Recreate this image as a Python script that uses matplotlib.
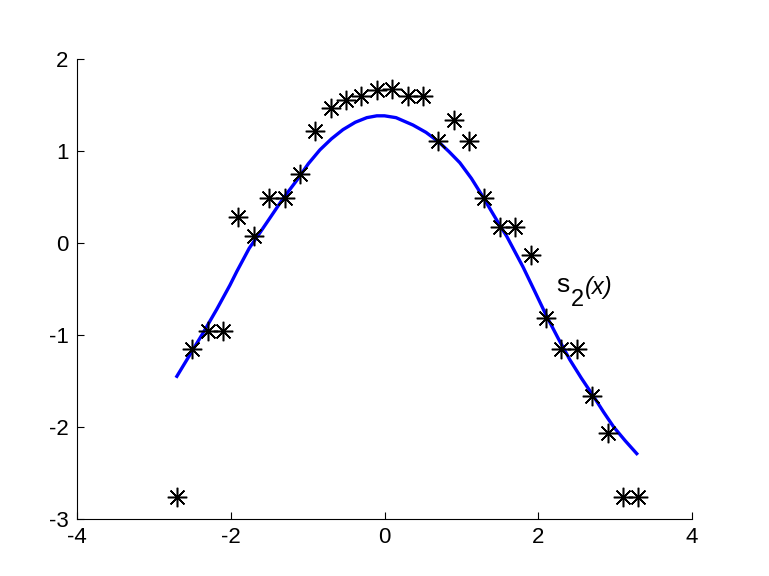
import matplotlib
matplotlib.use('Agg')
import matplotlib.pyplot as plt

plt.rcParams['font.family'] = ['Liberation Sans', 'DejaVu Sans']
plt.rcParams['axes.unicode_minus'] = False

# data points (asterisks)
x_pts = [-2.7, -2.5, -2.3, -2.1, -1.9, -1.7, -1.5, -1.3, -1.1, -0.9, -0.7,
         -0.5, -0.3, -0.1, 0.1, 0.3, 0.5, 0.7, 0.9, 1.1, 1.3, 1.5, 1.7,
         1.9, 2.1, 2.3, 2.5, 2.7, 2.9, 3.1, 3.3]
y_pts = [-2.76, -1.15, -0.96, -0.96, 0.28, 0.07, 0.49, 0.49, 0.75, 1.22, 1.46,
         1.55, 1.60, 1.66, 1.67, 1.59, 1.59, 1.11, 1.33, 1.11, 0.49, 0.17, 0.17,
         -0.13, -0.82, -1.15, -1.15, -1.66, -2.07, -2.76, -2.76]

# fitted curve s_2(x)
x_fit = [-2.70, -2.36, -2.18, -2.01, -1.92, -1.76, -1.62, -1.49, -1.32, -1.14,
         -0.99, -0.84, -0.69, -0.54, -0.38, -0.23, -0.10, 0.0, 0.15, 0.37,
         0.54, 0.70, 0.84, 0.98, 1.13, 1.28, 1.40, 1.50, 1.59, 1.80, 1.95,
         2.11, 2.26, 2.41, 2.56, 2.72, 2.85, 2.98, 3.13, 3.28]
y_fit = [-1.45, -0.98, -0.72, -0.46, -0.31, -0.06, 0.11, 0.27, 0.48, 0.68,
         0.86, 1.01, 1.13, 1.23, 1.31, 1.36, 1.38, 1.38, 1.36, 1.28,
         1.20, 1.10, 0.99, 0.87, 0.70, 0.50, 0.33, 0.19, 0.07, -0.26, -0.52,
         -0.80, -1.04, -1.27, -1.47, -1.67, -1.84, -2.00, -2.15, -2.29]

fig = plt.figure(figsize=(7.69, 5.76), dpi=100)
ax = fig.add_axes([0.100, 0.099, 0.800, 0.799])

ax.plot(x_fit, y_fit, color='#0000ff', lw=2.4)
ax.plot(x_pts, y_pts, ls='none', marker=(8, 2, 0), ms=14, mew=1.1,
        color='black')

# label s_2(x): 's', lowered '2', slanted '(x)'
ax.text(2.24, -0.53, 's', fontsize=19, ha='left', va='baseline')
ax.annotate('2', (2.24, -0.53), xytext=(10, -10), textcoords='offset points',
            fontsize=17, ha='left', va='baseline')
ax.annotate('(x)', (2.24, -0.53), xytext=(20, -2), textcoords='offset points',
            fontsize=17, style='italic', ha='left', va='baseline')

ax.set_xlim(-4, 4)
ax.set_ylim(-3, 2)
ax.set_xticks([-4, -2, 0, 2, 4])
ax.set_yticks([-3, -2, -1, 0, 1, 2])
ax.spines['top'].set_visible(False)
ax.spines['right'].set_visible(False)
ax.tick_params(direction='in', length=5, labelsize=16, pad=6)

fig.savefig('out.png', dpi=100)
